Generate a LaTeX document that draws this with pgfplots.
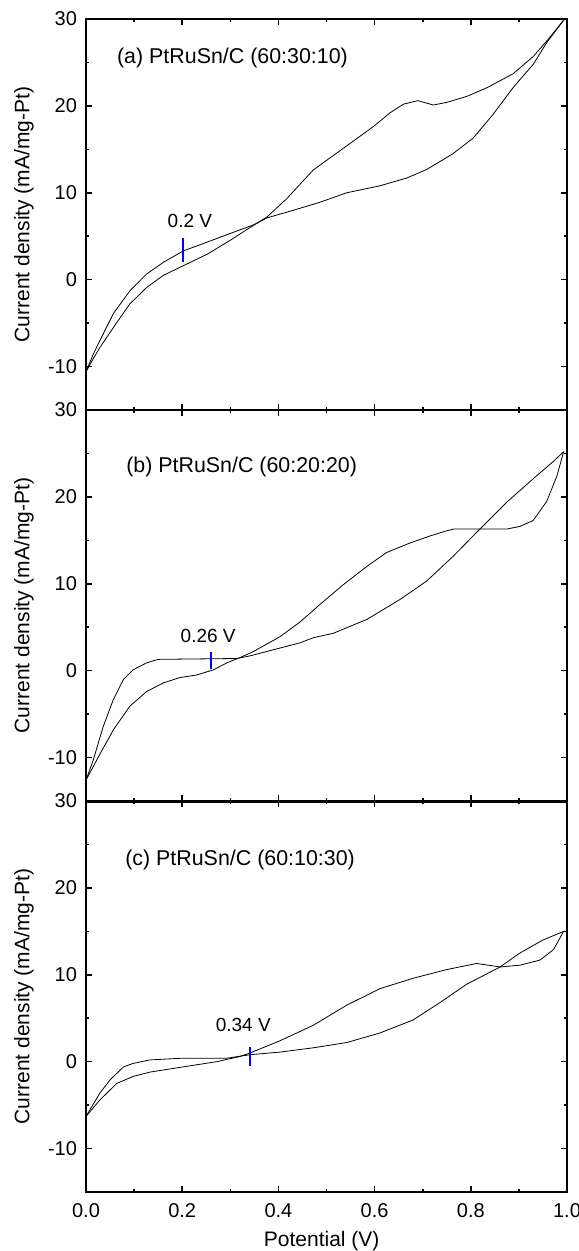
\documentclass[border=0pt]{standalone}
\usepackage{fontspec}
\setmainfont{Liberation Sans}
\usepackage{pgfplots}
\pgfplotsset{compat=1.18}

% one CV panel; all three share the same frame
\pgfplotsset{cvpanel/.style={
    scale only axis,
    width=240.5pt, height=195.5pt,
    xmin=0, xmax=1, ymin=-15, ymax=30,
    xtick={0,0.2,0.4,0.6,0.8,1.0},
    ytick={-10,0,10,20,30},
    minor x tick num=1, minor y tick num=1,
    tick align=inside,
    major tick length=3pt, minor tick length=1.7pt,
    axis line style={line width=0.8pt},
    every tick/.style={black, line width=0.8pt},
    /pgf/number format/assume math mode=true,
    tick label style={font=\fontsize{10}{12}\selectfont},
    xticklabel style={/pgf/number format/fixed, /pgf/number format/precision=1,
        /pgf/number format/fixed zerofill, yshift=-2pt},
    yticklabel style={xshift=-1pt},
    ylabel={Current density (mA/mg-Pt)},
    every axis y label/.style={at={(axis description cs:-0.129,0.5)}, rotate=90,
        anchor=center, font=\fontsize{10.5}{12}\selectfont},
    every axis x label/.style={at={(axis description cs:0.49,-0.125)},
        anchor=center, font=\fontsize{10.5}{12}\selectfont},
    cycle list={{black, mark=none, line width=1pt, line join=round}},
}}

\begin{document}
\begin{tikzpicture}
\useasboundingbox (-43pt,-29.5pt) rectangle (246pt,596pt);

% (a) 60:30:10
\begin{axis}[cvpanel, at={(0pt,391pt)}, anchor=south west, xticklabels={}]
\addplot coordinates {
    (0.000,-10.6) (0.015,-9.1) (0.029,-7.8) (0.057,-5.5) (0.091,-2.8)
    (0.126,-0.9) (0.161,0.5) (0.202,1.6) (0.251,2.9) (0.299,4.5)
    (0.341,6.0) (0.376,7.2) (0.417,9.3) (0.472,12.6) (0.542,15.4)
    (0.597,17.6) (0.632,19.2) (0.660,20.2) (0.690,20.6) (0.722,20.1)
    (0.750,20.4) (0.792,21.1) (0.834,22.1) (0.888,23.7) (0.930,25.7)
    (0.960,27.6) (0.995,30.0)
};
\addplot coordinates {
    (0.000,-10.6) (0.015,-8.6) (0.029,-7.0) (0.057,-3.9) (0.091,-1.3)
    (0.126,0.65) (0.161,2.0) (0.202,3.3) (0.251,4.3) (0.299,5.3)
    (0.348,6.3) (0.376,7.1) (0.438,8.1) (0.486,8.9) (0.542,10.0)
    (0.611,10.8) (0.667,11.7) (0.709,12.7) (0.763,14.5) (0.805,16.3)
    (0.846,19.0) (0.888,22.1) (0.930,24.8) (0.958,27.3) (0.995,30.0)
};
\addplot[blue, line width=0.9pt] coordinates {(0.202,2.0) (0.202,4.8)};
\node[font=\fontsize{9.5}{11}\selectfont] at (axis cs:0.216,6.8) {0.2 V};
\node[anchor=west, font=\fontsize{10.7}{12}\selectfont] at (axis cs:0.050,25.5) {(a) PtRuSn/C (60:30:10)};
\end{axis}

% (b) 60:20:20
\begin{axis}[cvpanel, at={(0pt,195.5pt)}, anchor=south west, xticklabels={}]
\addplot coordinates {
    (0.000,-12.6) (0.029,-9.6) (0.057,-6.8) (0.091,-4.1) (0.126,-2.4)
    (0.161,-1.4) (0.195,-0.8) (0.230,-0.5) (0.265,0.1) (0.293,0.9)
    (0.320,1.5) (0.348,2.2) (0.403,3.9) (0.445,5.6) (0.486,7.6)
    (0.535,9.9) (0.584,12.0) (0.625,13.6) (0.674,14.7) (0.715,15.5)
    (0.750,16.1) (0.765,16.3) (0.875,16.3) (0.902,16.6) (0.930,17.3)
    (0.958,19.5) (0.979,22.4) (0.993,25.2)
};
\addplot coordinates {
    (0.000,-12.6) (0.015,-10.3) (0.036,-6.4) (0.057,-3.3) (0.078,-1.0)
    (0.098,0.1) (0.126,0.9) (0.150,1.3) (0.313,1.4) (0.341,1.7)
    (0.403,2.6) (0.445,3.2) (0.473,3.8) (0.514,4.3) (0.584,5.9)
    (0.653,8.2) (0.708,10.3) (0.764,13.2) (0.819,16.3) (0.875,19.4)
    (0.930,22.1) (0.972,24.1) (0.993,25.2)
};
\addplot[blue, line width=0.9pt] coordinates {(0.260,0.2) (0.260,2.2)};
\node[font=\fontsize{9.5}{11}\selectfont] at (axis cs:0.254,4.0) {0.26 V};
\node[anchor=west, font=\fontsize{10.7}{12}\selectfont] at (axis cs:0.069,23.4) {(b) PtRuSn/C (60:20:20)};
\end{axis}

% (c) 60:10:30
\begin{axis}[cvpanel, at={(0pt,0pt)}, anchor=south west, xlabel={Potential (V)}]
\addplot coordinates {
    (0.000,-6.3) (0.029,-4.4) (0.064,-2.5) (0.098,-1.7) (0.133,-1.2)
    (0.202,-0.6) (0.272,0.0) (0.320,0.6) (0.341,1.0) (0.403,2.4)
    (0.473,4.2) (0.542,6.5) (0.611,8.4) (0.680,9.6) (0.750,10.6)
    (0.812,11.3) (0.861,10.9) (0.902,11.1) (0.944,11.7) (0.972,12.9)
    (0.993,15.0)
};
\addplot coordinates {
    (0.000,-6.3) (0.029,-3.6) (0.050,-2.1) (0.078,-0.6) (0.098,-0.2)
    (0.133,0.2) (0.200,0.4) (0.293,0.4) (0.341,0.8) (0.403,1.1)
    (0.473,1.6) (0.542,2.2) (0.611,3.3) (0.680,4.8) (0.736,6.8)
    (0.791,8.9) (0.861,10.9) (0.902,12.5) (0.950,14.0) (0.993,15.0)
};
\addplot[blue, line width=0.9pt] coordinates {(0.341,-0.5) (0.341,1.7)};
\node[font=\fontsize{9.5}{11}\selectfont] at (axis cs:0.327,4.2) {0.34 V};
\node[anchor=west, font=\fontsize{10.7}{12}\selectfont] at (axis cs:0.067,23.2) {(c) PtRuSn/C (60:10:30)};
\draw[line width=1.8pt] (rel axis cs:0,1) -- (rel axis cs:1,1);
\end{axis}
\end{tikzpicture}
\end{document}
